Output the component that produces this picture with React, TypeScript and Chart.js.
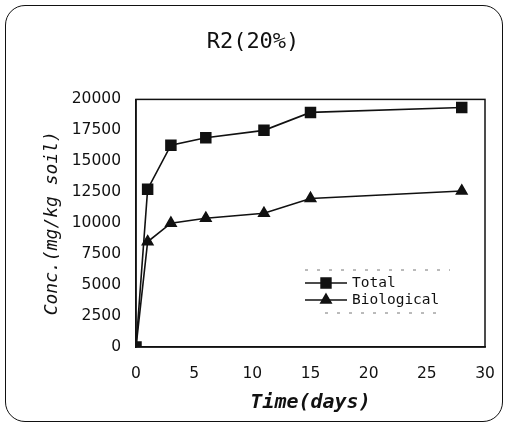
import React, { useEffect, useRef } from "react";
import { Chart, registerables } from "chart.js";
import { drawPoint } from "chart.js/helpers";

Chart.register(...registerables);

const days = [0, 1, 3, 6, 11, 15, 28];
const totalConc = [0, 12750, 16300, 16900, 17500, 18950, 19350];
const biologicalConc = [0, 8500, 10000, 10400, 10800, 12000, 12600];
const seriesNames = ["Total", "Biological"];
const chartTitle = "R2(20%)";
const xTitle = "Time(days)";
const yTitle = "Conc.(mg/kg soil)";

const frameAndLegend = {
  id: "frameAndLegend",
  afterDatasetsDraw(chart: any) {
    const { ctx, chartArea } = chart;
    ctx.save();
    ctx.strokeStyle = "#111";
    ctx.lineWidth = 1.5;
    ctx.strokeRect(chartArea.left, chartArea.top, chartArea.right - chartArea.left, chartArea.bottom - chartArea.top);

    const lx = chartArea.right - 180;
    const rows = [chartArea.bottom - 64, chartArea.bottom - 47];
    ctx.strokeStyle = "#777";
    ctx.lineWidth = 1;
    ctx.setLineDash([3, 9]);
    ctx.beginPath();
    ctx.moveTo(lx, rows[0] - 13);
    ctx.lineTo(lx + 145, rows[0] - 13);
    ctx.moveTo(lx + 20, rows[1] + 13);
    ctx.lineTo(lx + 140, rows[1] + 13);
    ctx.stroke();
    ctx.setLineDash([]);

    chart.data.datasets.forEach((ds: any, i: number) => {
      const y = rows[i];
      ctx.strokeStyle = ds.borderColor;
      ctx.lineWidth = 1.5;
      ctx.beginPath();
      ctx.moveTo(lx, y);
      ctx.lineTo(lx + 42, y);
      ctx.stroke();
      ctx.fillStyle = ds.pointBackgroundColor;
      drawPoint(ctx, { pointStyle: ds.pointStyle, radius: ds.pointRadius, rotation: 0, borderWidth: 1 } as any, lx + 21, y);
      ctx.fillStyle = "#111";
      ctx.font = "14.5px 'DejaVu Sans Mono'";
      ctx.textBaseline = "middle";
      ctx.textAlign = "left";
      ctx.fillText(ds.label, lx + 47, y);
    });
    ctx.restore();
  },
};

export default function App() {
  const ref = useRef<HTMLCanvasElement | null>(null);
  useEffect(() => {
    if (!ref.current) return;
    const chart = new Chart(ref.current, {
      type: "line",
      data: {
        datasets: [
          {
            label: seriesNames[0],
            data: days.map((d, i) => ({ x: d, y: totalConc[i] })),
            borderColor: "#111",
            backgroundColor: "#111",
            pointBackgroundColor: "#111",
            pointBorderColor: "#111",
            pointStyle: "rect",
            pointRadius: 7,
            borderWidth: 1.6,
            tension: 0,
          },
          {
            label: seriesNames[1],
            data: days.map((d, i) => ({ x: d, y: biologicalConc[i] })),
            borderColor: "#111",
            backgroundColor: "#111",
            pointBackgroundColor: "#111",
            pointBorderColor: "#111",
            pointStyle: "triangle",
            pointRadius: 6,
            borderWidth: 1.6,
            tension: 0,
          },
        ],
      },
      options: {
        animation: false,
        responsive: false,
        devicePixelRatio: 1,
        layout: { padding: { left: 21, right: 20, top: 0, bottom: 0 } },
        plugins: {
          legend: { display: false },
          tooltip: { enabled: false },
          title: {
            display: true,
            text: chartTitle,
            color: "#111",
            font: { family: "'DejaVu Sans Mono'", size: 22, weight: "normal", lineHeight: 1.2 },
            padding: { top: 29, bottom: 44 },
          },
        },
        scales: {
          x: {
            type: "linear",
            min: 0,
            max: 30,
            ticks: {
              stepSize: 5,
              color: "#111",
              padding: 0,
              font: { family: "'DejaVu Sans'", size: 15.5 },
              callback: (v: any) => String(v),
            },
            grid: { display: false, drawTicks: true, tickLength: 18 },
            border: { display: true, color: "#111", width: 1.5 },
            title: {
              display: true,
              text: xTitle,
              color: "#111",
              font: { family: "'DejaVu Sans Mono'", size: 20, style: "italic", weight: "bold", lineHeight: 1.2 },
              padding: { top: 0, bottom: 12 },
            },
            afterFit: (scale: any) => {
              scale.height = 80;
            },
          },
          y: {
            type: "linear",
            min: 0,
            max: 20000,
            ticks: {
              stepSize: 2500,
              color: "#111",
              padding: 15,
              font: { family: "'DejaVu Sans'", size: 15.5 },
              callback: (v: any) => String(v),
            },
            grid: { display: false, drawTicks: false },
            border: { display: true, color: "#111", width: 1.5 },
            title: {
              display: true,
              text: yTitle,
              color: "#111",
              font: { family: "'DejaVu Sans Mono'", size: 18, style: "italic", lineHeight: 1.2 },
              padding: { top: 21, bottom: 0 },
            },
            afterFit: (scale: any) => {
              scale.width = 115;
            },
          },
        },
      },
      plugins: [frameAndLegend],
    });
    return () => chart.destroy();
  }, []);

  return (
    <div style={{ position: "fixed", left: 0, top: 0, width: 505, height: 427, background: "#fff" }}>
      <div
        style={{
          position: "absolute",
          left: 5,
          top: 5,
          width: 496,
          height: 415,
          border: "1.5px solid #111",
          borderRadius: 20,
        }}
      />
      <canvas ref={ref} width={505} height={427} style={{ position: "absolute", left: 0, top: 0 }} />
    </div>
  );
}
